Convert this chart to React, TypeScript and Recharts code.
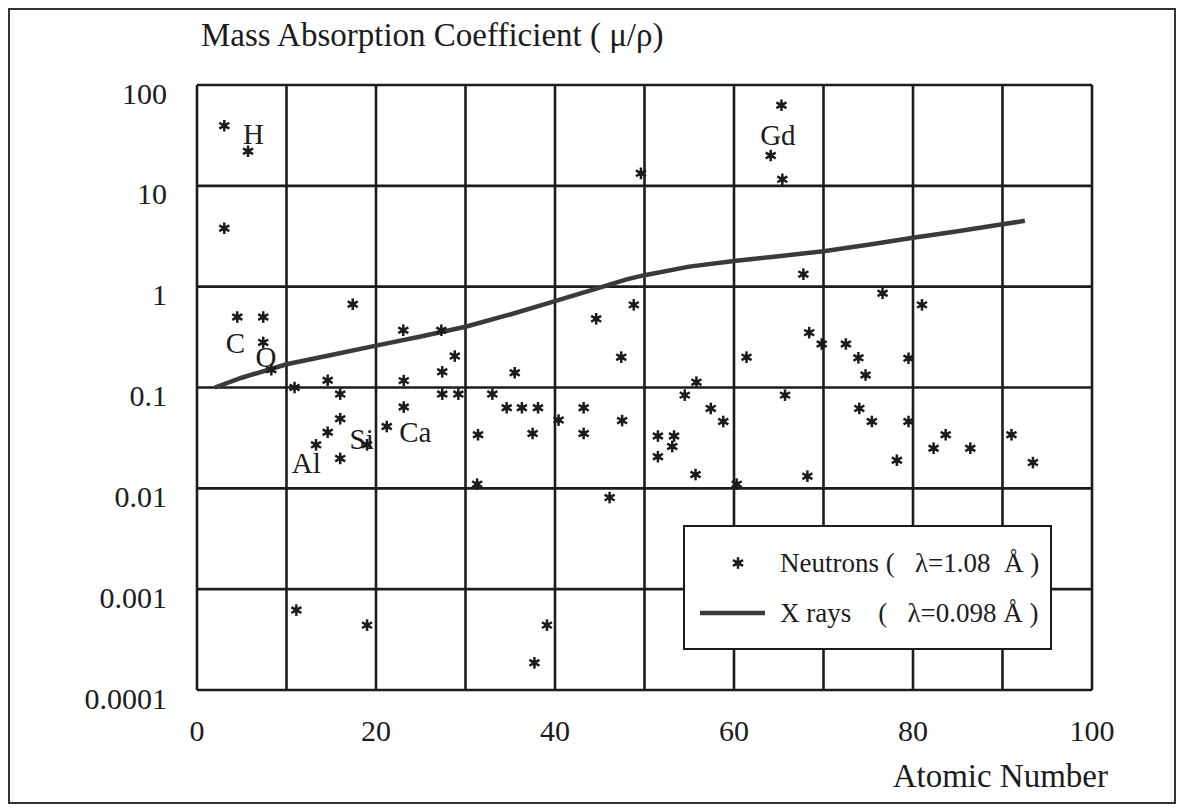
import { ComposedChart, Scatter, XAxis, YAxis, CartesianGrid, Legend } from 'recharts';

// Neutron mass absorption coefficients (λ = 1.08 Å)
const NEUTRON_Z = [
  3.05, 5.7, 3.05, 4.5, 7.4, 7.4, 8.3, 10.9, 14.6, 16.0,
  17.4, 16.0, 14.6, 13.3, 16.0, 19.0, 21.2, 23.05, 23.1, 23.1,
  27.3, 27.4, 27.4, 28.8, 29.2, 31.4, 31.3, 33.0, 34.6, 35.5,
  36.3, 38.1, 37.5, 40.4, 43.2, 43.2, 44.6, 47.4, 47.5, 48.8,
  46.1, 49.6, 51.5, 53.3, 53.1, 51.5, 54.5, 55.8, 55.7, 57.4,
  58.8, 60.3, 61.4, 64.1, 65.3, 65.4, 65.7, 67.75, 68.4, 68.2,
  69.8, 72.5, 73.9, 74.7, 74.0, 75.4, 76.6, 78.2, 79.5, 79.5,
  81.0, 82.3, 83.65, 86.4, 91.0, 93.4, 11.1, 19.0, 37.7, 39.1,
];
const NEUTRON_MU = [
  39.5, 22, 3.8, 0.5, 0.5, 0.28, 0.15, 0.1, 0.118, 0.086,
  0.67, 0.049, 0.036, 0.027, 0.0198, 0.027, 0.041, 0.37, 0.117, 0.064,
  0.37, 0.143, 0.086, 0.205, 0.086, 0.034, 0.011, 0.086, 0.063, 0.14,
  0.063, 0.063, 0.035, 0.0475, 0.063, 0.035, 0.48, 0.2, 0.047, 0.66,
  0.0081, 13.3, 0.033, 0.033, 0.026, 0.0206, 0.084, 0.113, 0.0137, 0.062,
  0.046, 0.011, 0.2, 20, 63, 11.6, 0.084, 1.33, 0.35, 0.0132,
  0.27, 0.27, 0.197, 0.133, 0.062, 0.046, 0.86, 0.019, 0.195, 0.046,
  0.66, 0.025, 0.034, 0.025, 0.034, 0.018, 0.00062, 0.00044, 0.000186, 0.00044,
];

// X rays (λ = 0.098 Å)
const XRAY_Z = [2, 5, 10, 15, 20, 25, 30, 35, 40, 45, 48, 50, 55, 60, 65, 70, 75, 80, 85, 90, 92.5];
const XRAY_MU = [0.1, 0.125, 0.17, 0.21, 0.26, 0.32, 0.4, 0.53, 0.72, 0.98, 1.18, 1.3, 1.58, 1.8, 2.0, 2.25, 2.6, 3.05, 3.55, 4.15, 4.5];

// element labels written inside the plot
const LABEL_TEXT = ['H', 'C', 'O', 'Al', 'Si', 'Ca', 'Gd'];
const LABEL_Z = [6.3, 4.3, 7.7, 12.2, 18.4, 24.4, 64.9];
const LABEL_MU = [33, 0.275, 0.2, 0.0178, 0.031, 0.036, 32];

const X_TICKS = [0, 10, 20, 30, 40, 50, 60, 70, 80, 90, 100];
const Y_TICKS = [0.0001, 0.001, 0.01, 0.1, 1, 10, 100];

const FONT = '"Liberation Serif", "Times New Roman", Times, serif';
const INK = '#1c1c1c';

const neutrons = NEUTRON_Z.map((z, i) => ({ z, mu: NEUTRON_MU[i] }));
const xrays = XRAY_Z.map((z, i) => ({ z, mu: XRAY_MU[i] }));
const labels = LABEL_TEXT.map((text, i) => ({ z: LABEL_Z[i], mu: LABEL_MU[i], text }));

function StarMark({ cx, cy }: any) {
  if (cx == null || cy == null) return <g />;
  const r = 5.8;
  const segs = [90, 30, 150].map((deg) => {
    const a = (deg * Math.PI) / 180;
    return [cx - r * Math.cos(a), cy - r * Math.sin(a), cx + r * Math.cos(a), cy + r * Math.sin(a)];
  });
  return (
    <g>
      {segs.map((s, i) => (
        <line key={i} x1={s[0]} y1={s[1]} x2={s[2]} y2={s[3]} stroke={INK} strokeWidth={2.5} />
      ))}
      <circle cx={cx} cy={cy} r={2.8} fill={INK} />
    </g>
  );
}

function ElementLabel({ cx, cy, payload }: any) {
  return (
    <text x={cx} y={cy} textAnchor="middle" dominantBaseline="central" fontFamily={FONT} fontSize={29} fill={INK}>
      {payload.text}
    </text>
  );
}

function YTick({ x, y, payload }: any) {
  return (
    <text x={x} y={y} dy={8} textAnchor="end" dominantBaseline="central" fontFamily={FONT} fontSize={30} fill={INK}>
      {String(payload.value)}
    </text>
  );
}

function LegendBox() {
  return (
    <div
      style={{
        width: 369,
        height: 125,
        border: `2px solid ${INK}`,
        background: '#fff',
        boxSizing: 'border-box',
      }}
    >
      <svg width={365} height={121}>
        <StarMark cx={53} cy={36} />
        <text x={95} y={45} fontFamily={FONT} fontSize={27} fill={INK} style={{ whiteSpace: 'pre' }}>
          {'Neutrons (   λ=1.08  Å )'}
        </text>
        <line x1={15} y1={86} x2={80} y2={86} stroke="#3a3a3a" strokeWidth={4.5} />
        <text x={95} y={95} fontFamily={FONT} fontSize={27} fill={INK} style={{ whiteSpace: 'pre' }}>
          {'X rays    (   λ=0.098 Å )'}
        </text>
      </svg>
    </div>
  );
}

export default function App() {
  return (
    <div
      style={{
        width: 1168,
        height: 796,
        border: '2px solid #333',
        boxSizing: 'border-box',
        background: '#fff',
        fontFamily: FONT,
      }}
    >
      <ComposedChart width={1164} height={792} margin={{ top: 75, right: 82, bottom: 0, left: 0 }}>
        <CartesianGrid stroke={INK} strokeWidth={2.6} horizontalValues={Y_TICKS} verticalValues={X_TICKS} />
        <XAxis
          dataKey="z"
          type="number"
          domain={[0, 100]}
          ticks={X_TICKS}
          interval={0}
          tickFormatter={(v) => (v % 20 === 0 ? String(v) : '')}
          tick={{ fontSize: 30, fill: INK, fontFamily: FONT }}
          tickLine={false}
          tickSize={0}
          tickMargin={30}
          axisLine={false}
          height={112}
          label={{
            content: ({ viewBox }: any) => (
              <text
                x={viewBox.x + viewBox.width + 16}
                y={viewBox.y + 97}
                textAnchor="end"
                fontFamily={FONT}
                fontSize={33}
                fill={INK}
              >
                Atomic Number
              </text>
            ),
          }}
        />
        <YAxis
          dataKey="mu"
          type="number"
          scale="log"
          domain={[0.0001, 100]}
          allowDataOverflow
          ticks={Y_TICKS}
          interval={0}
          tick={<YTick />}
          tickLine={false}
          tickSize={0}
          tickMargin={30}
          axisLine={false}
          width={187}
          label={{
            content: ({ viewBox }: any) => (
              <text x={viewBox.x + viewBox.width + 4} y={viewBox.y - 39} fontFamily={FONT} fontSize={33} fill={INK}>
                Mass Absorption Coefficient ( μ/ρ)
              </text>
            ),
          }}
        />
        <Scatter
          name="X rays"
          data={xrays}
          line={{ stroke: '#3a3a3a', strokeWidth: 4.5 }}
          lineType="joint"
          shape={() => <g />}
          isAnimationActive={false}
        />
        <Scatter name="Neutrons" data={neutrons} shape={<StarMark />} isAnimationActive={false} />
        <Scatter name="labels" data={labels} shape={<ElementLabel />} isAnimationActive={false} legendType="none" />
        <Legend
          layout="horizontal"
          align="center"
          verticalAlign="middle"
          content={() => <LegendBox />}
          wrapperStyle={{ position: 'absolute', left: 673, top: 515, width: 369, height: 125 }}
        />
      </ComposedChart>
    </div>
  );
}
